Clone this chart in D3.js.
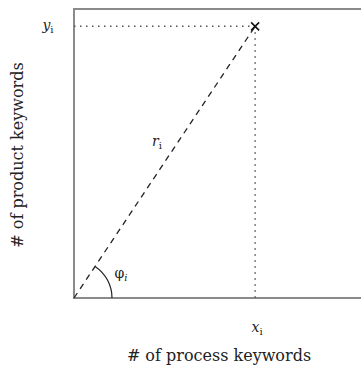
<!DOCTYPE html>
<html>
<head>
<meta charset="utf-8">
<script src="https://d3js.org/d3.v7.min.js"></script>
<style>
  body { margin: 0; background: #fff; }
  text { font-family: "DejaVu Serif", "Liberation Serif", serif; fill: #222; }
</style>
</head>
<body>
<script>
// the one keyword point and its labels
var pointX = [0.59]
var pointY = [0.94]
var axisLabels = ["# of process keywords", "# of product keywords"]
var pointLabels = ["x", "y", "r", "φ"]

var width = 361, height = 367
var margin = {top: 9, left: 74, bottom: 69, right: -20}

var svg = d3.select("body").append("svg")
    .attr("width", width)
    .attr("height", height)

var x = d3.scaleLinear().domain([0, 1]).range([margin.left, width - margin.right])
var y = d3.scaleLinear().domain([0, 1]).range([height - margin.bottom, margin.top])

var px = x(pointX[0]), py = y(pointY[0])
var ox = x(0), oy = y(0)

// frame (right side is off the page)
svg.append("rect")
    .attr("x", x(0)).attr("y", y(1))
    .attr("width", x(1) - x(0)).attr("height", y(0) - y(1))
    .attr("fill", "none").attr("stroke", "#8a8a8a").attr("stroke-width", 2)

// dotted guides
svg.append("line")
    .attr("x1", ox).attr("y1", py).attr("x2", px).attr("y2", py)
    .attr("stroke", "#555").attr("stroke-width", 1.5).attr("stroke-dasharray", "1.5,4.5")
svg.append("line")
    .attr("x1", px).attr("y1", py).attr("x2", px).attr("y2", oy)
    .attr("stroke", "#555").attr("stroke-width", 1.5).attr("stroke-dasharray", "1.5,4.5")

// dashed radius
svg.append("line")
    .attr("x1", ox).attr("y1", oy).attr("x2", px).attr("y2", py)
    .attr("stroke", "#222").attr("stroke-width", 1.3).attr("stroke-dasharray", "6,5")

// angle arc
var ang = Math.atan2(oy - py, px - ox)
var arcR = 38
svg.append("path")
    .attr("transform", "translate(" + ox + "," + oy + ")")
    .attr("d", d3.arc()({innerRadius: arcR, outerRadius: arcR, startAngle: Math.PI / 2 - ang, endAngle: Math.PI / 2}))
    .attr("fill", "none").attr("stroke", "#222").attr("stroke-width", 1.2)

// cross marker
svg.append("g").attr("transform", "translate(" + px + "," + py + ")")
  .selectAll("line").data([[-4, -4, 4, 4], [-4, 4, 4, -4]]).join("line")
    .attr("x1", d => d[0]).attr("y1", d => d[1]).attr("x2", d => d[2]).attr("y2", d => d[3])
    .attr("stroke", "#111").attr("stroke-width", 1.6)

function subLabel(tx, ty, main, sub, upright) {
  var el = svg.append("text").attr("x", tx).attr("y", ty).attr("text-anchor", "middle").style("font-size", "14px")
  el.append("tspan").text(main).style("font-style", upright ? "normal" : "italic")
  el.append("tspan").text(sub).attr("dy", 3).style("font-size", "10px").style("font-style", upright ? "italic" : "normal")
  return el
}

subLabel(px + 2, 332, pointLabels[0], "i")
subLabel(48, py + 4, pointLabels[1], "i")
subLabel(157, 146, pointLabels[2], "i")
subLabel(121, 278, pointLabels[3], "i", true)

// axis titles
svg.append("text")
    .attr("x", 219).attr("y", 361)
    .attr("text-anchor", "middle").style("font-size", "16px")
    .text(axisLabels[0])
svg.append("text")
    .attr("transform", "translate(23,155) rotate(-90)")
    .attr("text-anchor", "middle").style("font-size", "16px")
    .text(axisLabels[1])
</script>
</body>
</html>
